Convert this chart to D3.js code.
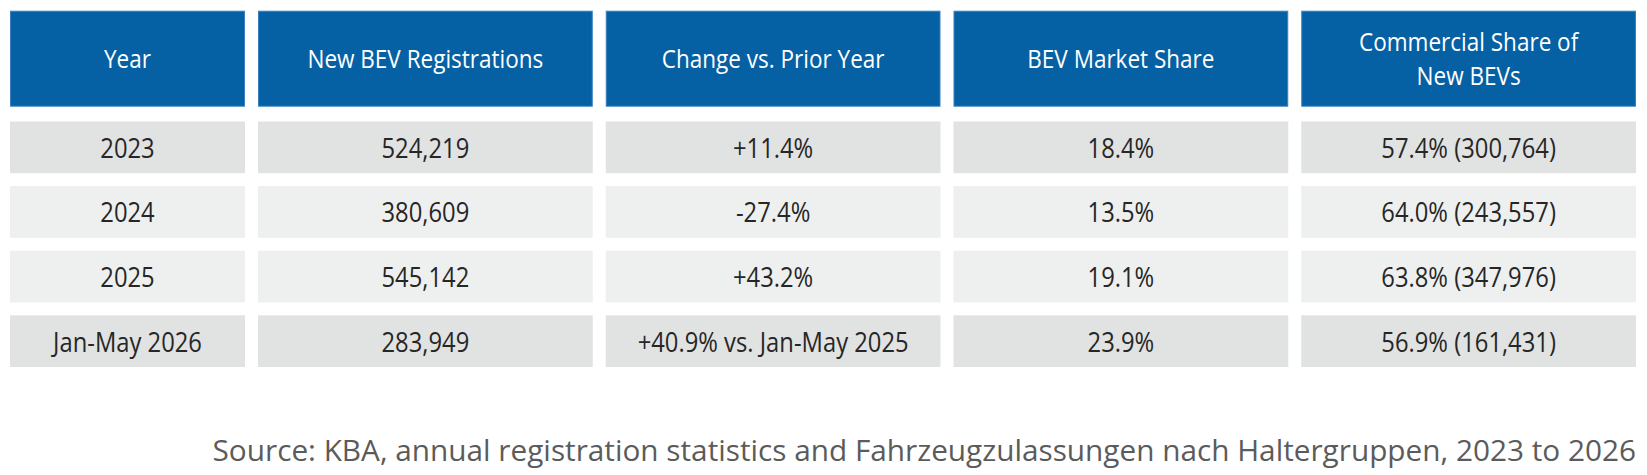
<!DOCTYPE html>
<html>
<head>
<meta charset="utf-8">
<script src="https://cdn.jsdelivr.net/npm/d3@7"></script>
<style>
  html, body { margin: 0; padding: 0; background: #fff; }
</style>
</head>
<body>
<div id="chart"></div>
<script>
// table data
const headers = ["Year", "New BEV Registrations", "Change vs. Prior Year", "BEV Market Share", ["Commercial Share of", "New BEVs"]];
const years = ["2023", "2024", "2025", "Jan-May 2026"];
const registrations = [524219, 380609, 545142, 283949];
const changes = ["+11.4%", "-27.4%", "+43.2%", "+40.9% vs. Jan-May 2025"];
const marketShare = [18.4, 13.5, 19.1, 23.9];
const commercialShare = [57.4, 64.0, 63.8, 56.9];
const commercialCount = [300764, 243557, 347976, 161431];
const source = "Source: KBA, annual registration statistics and Fahrzeugzulassungen nach Haltergruppen, 2023 to 2026";

const width = 1647;
const height = 475;

const fmtInt = d3.format(",");
const fmtPct = d3.format(".1f");

// build the rows of cell strings
const rows = years.map((y, i) => [
    y,
    fmtInt(registrations[i]),
    changes[i],
    fmtPct(marketShare[i]) + "%",
    fmtPct(commercialShare[i]) + "% (" + fmtInt(commercialCount[i]) + ")"
]);

// column layout: first column narrower, the rest equal
const left = 10, right = 1636, gap = 13;
const firstW = 235;
const otherW = (right - left - firstW - gap * 4) / 4;
const colX = [left];
for (let i = 1; i < 5; i++) colX.push(left + firstW + gap + (i - 1) * (otherW + gap));
const colW = [firstW, otherW, otherW, otherW, otherW];

const header = { top: 10.7, bottom: 106.7 };

const y = d3.scaleBand()
    .domain(years)
    .range([121.5, 367])
    .paddingInner(0.2);

const rowFill = ["#e1e2e2", "#eef0ef", "#eef0ef", "#e1e2e2"];
const cellFont = "'Open Sans', sans-serif";

const svg = d3.select("#chart")
    .append("svg")
    .attr("width", width)
    .attr("height", height);

svg.append("rect")
    .attr("width", width)
    .attr("height", height)
    .attr("fill", "#fff");

//measure a sample string so the squeeze matches the condensed face of the original
function measure(str, size){
    const t = svg.append("text")
        .attr("font-family", cellFont)
        .attr("font-size", size)
        .text(str);
    const w = t.node().getComputedTextLength();
    t.remove();
    return w;
}
const headSize = 26, bodySize = 28;
const headSqueeze = 236 / measure("New BEV Registrations", headSize);
const bodySqueeze = 271 / measure("+40.9% vs. Jan-May 2025", bodySize);
//source line is sized to run from x=212 to the table's right edge
const sourceSize = 31 * (right - 212) / measure(source, 31);

//header cells
const head = svg.append("g");
head.selectAll("rect")
    .data(headers)
    .join("rect")
    .attr("x", (d, i) => colX[i] + 0.5)
    .attr("y", header.top + 0.5)
    .attr("width", (d, i) => colW[i] - 1)
    .attr("height", header.bottom - header.top - 1)
    .attr("fill", "#0560a4")
    .attr("stroke", "#3a80c0")
    .attr("stroke-width", 1);

head.selectAll("text")
    .data(headers)
    .join("text")
    .attr("transform", (d, i) => `translate(${colX[i] + colW[i] / 2},0) scale(${headSqueeze},1)`)
    .attr("text-anchor", "middle")
    .attr("fill", "#fff")
    .attr("font-family", cellFont)
    .attr("font-size", headSize)
    .each(function(d){
        const lines = Array.isArray(d) ? d : [d];
        const mid = (header.top + header.bottom) / 2;
        const lh = 34;
        const base = mid + 9.5 - (lines.length - 1) * lh / 2;
        d3.select(this).selectAll("tspan")
            .data(lines)
            .join("tspan")
            .attr("x", 0)
            .attr("y", (l, j) => base + j * lh)
            .text(l => l);
    });

//body cells
const body = svg.append("g");
rows.forEach((row, r) => {
    const g = body.append("g");
    const ty = y(years[r]) + y.bandwidth() / 2 + 10.5;
    g.selectAll("rect")
        .data(row)
        .join("rect")
        .attr("x", (d, i) => colX[i])
        .attr("y", y(years[r]))
        .attr("width", (d, i) => colW[i])
        .attr("height", y.bandwidth())
        .attr("fill", rowFill[r]);
    g.selectAll("text")
        .data(row)
        .join("text")
        .attr("transform", (d, i) => `translate(${colX[i] + colW[i] / 2},${ty}) scale(${bodySqueeze},1)`)
        .attr("text-anchor", "middle")
        .attr("fill", "#262626")
        .attr("font-family", cellFont)
        .attr("font-size", bodySize)
        .text(d => d);
});

svg.append("text")
    .attr("x", right)
    .attr("y", 461)
    .attr("text-anchor", "end")
    .attr("fill", "#5b5b5b")
    .attr("font-family", "'Open Sans', sans-serif")
    .attr("font-size", sourceSize)
    .text(source);
</script>
</body>
</html>
